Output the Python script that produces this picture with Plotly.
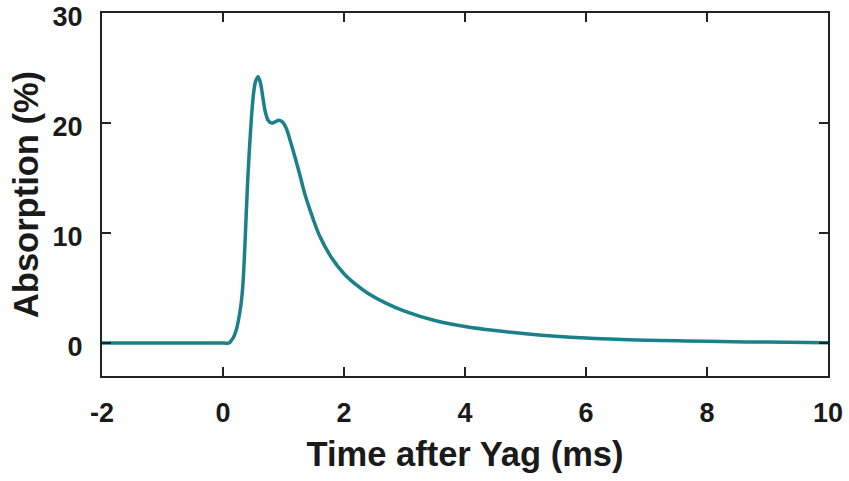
import plotly.graph_objects as go

time_ms = [-2.0, -1.0, 0.0, 0.10, 0.14, 0.18, 0.22, 0.26, 0.30, 0.33, 0.36, 0.38, 0.40,
           0.42, 0.45, 0.48, 0.51, 0.54, 0.58, 0.62, 0.66, 0.70, 0.75, 0.80, 0.86,
           0.92, 0.98, 1.04, 1.10, 1.18, 1.26, 1.35, 1.45, 1.60, 1.80, 2.0, 2.2,
           2.4, 2.7, 3.0, 3.5, 4.0, 4.5, 5.0, 5.5, 6.0, 6.5, 7.0, 7.5, 8.0, 9.0, 10.0]
absorption = [0.0, 0.0, 0.0, 0.0, 0.25, 0.6, 1.2, 2.2, 3.6, 5.4, 8.6, 11.2, 13.8,
              16.0, 18.8, 21.2, 22.9, 23.8, 24.2, 23.6, 22.3, 21.0, 20.2, 20.0, 20.1,
              20.25, 20.1, 19.6, 18.6, 17.1, 15.5, 13.6, 11.9, 9.7, 7.7, 6.3, 5.3,
              4.5, 3.6, 2.9, 2.05, 1.5, 1.13, 0.85, 0.62, 0.45, 0.33, 0.25, 0.2, 0.15, 0.08, 0.03]

x_ticks = [-2, 0, 2, 4, 6, 8, 10]
y_ticks = [0, 10, 20, 30]

FONT = "Liberation Sans, Arial, Helvetica, sans-serif"

fig = go.Figure()
fig.add_trace(go.Scatter(
    x=time_ms, y=absorption, mode="lines",
    line=dict(color="#1b8089", width=3.5, shape="spline", smoothing=1.0),
    showlegend=False,
))

axis_common = dict(
    showline=True, linecolor="#222222", linewidth=2, mirror="allticks",
    ticks="inside", ticklen=9, tickwidth=2, tickcolor="#222222",
    showgrid=False, zeroline=False, automargin=False,
    ticklabeloverflow="allow",
    tickfont=dict(family=FONT, size=27, color="#1a1a1a", weight="bold"),
)

fig.update_xaxes(
    range=[-2, 10], tickvals=x_ticks, ticktext=[str(v) for v in x_ticks],
    title=dict(text="Time after Yag (ms)", standoff=14,
               font=dict(family=FONT, size=34.5, color="#1a1a1a", weight="bold")),
    ticklabelstandoff=12,
    **axis_common,
)
fig.update_yaxes(
    range=[-3, 30], tickvals=y_ticks, ticktext=[str(v) for v in y_ticks],
    title=dict(text="Absorption (%)", standoff=3,
               font=dict(family=FONT, size=34.5, color="#1a1a1a", weight="bold")),
    ticklabelstandoff=12, ticklabelshift=4,
    **axis_common,
)

fig.update_layout(
    width=849, height=481,
    margin=dict(l=102, r=21, t=13, b=105),
    plot_bgcolor="white", paper_bgcolor="white",
)

fig.write_html("out.html")
